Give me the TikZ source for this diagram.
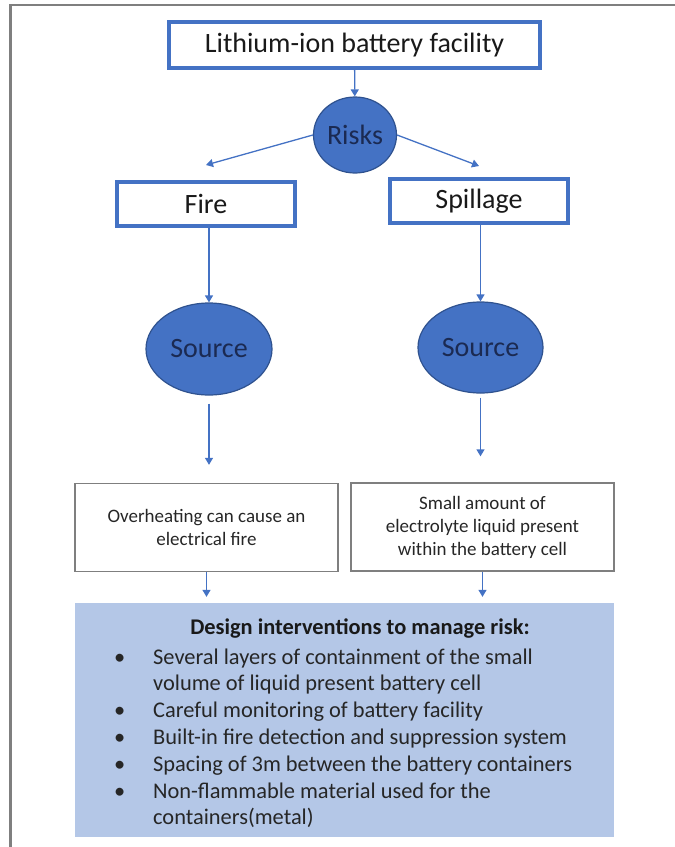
\documentclass[tikz,border=0pt]{standalone}
\usepackage{fontspec}
\setmainfont{Carlito}
\usepackage{xcolor}
\usepackage{tikz}
\usetikzlibrary{positioning, shapes.geometric, arrows.meta}

\definecolor{accent}{HTML}{4472C4}
\definecolor{accentdark}{HTML}{2F528F}
\definecolor{navytext}{HTML}{1B2A52}
\definecolor{panelblue}{HTML}{B4C7E7}
\definecolor{framegray}{HTML}{7F7F7F}

\begin{document}
\begin{tikzpicture}[x=1pt, y=-1pt,
    head/.style={draw=accent, line width=4pt, fill=white, inner sep=0pt, text=black!90, font=\fontsize{28}{34}\selectfont},
    bubble/.style={ellipse, draw=accentdark, line width=1.2pt, fill=accent, inner sep=0pt, text=navytext, font=\fontsize{28}{34}\selectfont},
    fact/.style={draw=framegray, line width=1.3pt, align=center, inner sep=0pt, minimum width=263pt, minimum height=88pt, text=black!85, font=\fontsize{19}{23}\selectfont},
    link/.style={draw=accent, line width=1.3pt, -{Triangle[length=7pt,width=8pt]}}]
        \useasboundingbox (0,0) rectangle (675,847);
        \draw[framegray, line width=2.5pt] (675,5) -- (10.5,5) -- (10.5,847);

        \node[head, minimum width=371pt, minimum height=46pt] (facility) at (354.5,45) {Lithium-ion battery facility};
        \node[bubble, minimum width=83pt, minimum height=76pt] (risks) at (355,135) {Risks};
        \node[head, minimum width=178pt, minimum height=44pt] (fire) at (206,204) {Fire};
        \node[head, minimum width=178pt, minimum height=44pt] (spill) at (479,201) {Spillage};
        \node[bubble, minimum width=126pt, minimum height=92pt] (srcfire) at (209,349) {Source};
        \node[bubble, minimum width=125pt, minimum height=91pt] (srcspill) at (480.5,347.5) {Source};
        \node[fact] (heat) at (206.5,527.5) {Overheating can cause an\\electrical fire};
        \node[fact] (liquid) at (482.5,527) {Small amount of\\electrolyte liquid present\\within the battery cell};
        \node[fill=panelblue, minimum width=539pt, minimum height=234pt, inner sep=0pt] (design) at (344.5,720) {};
        \node[text=black!90, font=\fontsize{22.4}{26.8}\selectfont\bfseries] (title) at (360,629) {Design interventions to manage risk:};
        \node[anchor=base west, inner sep=0pt, text=black!85, font=\fontsize{22.4}{26.8}\selectfont] (measures) at (114,664) {%
          \begin{tabular}[t]{@{}p{39pt}@{}l@{}}
            \textbullet & Several layers of containment of the small\\
                        & volume of liquid present battery cell\\
            \textbullet & Careful monitoring of battery facility\\
            \textbullet & Built-in fire detection and suppression system\\
            \textbullet & Spacing of 3m between the battery containers\\
            \textbullet & Non-flammable material used for the\\
                        & containers(metal)
          \end{tabular}};

        \draw[link] (facility) -- (risks);
        \draw[link] (risks.west) -- ([yshift=15pt]fire.north);
        \draw[link] (risks.east) -- ([yshift=11pt]spill.north);
        \draw[link] (srcfire.north |- fire.south) -- (srcfire);
        \draw[link] (srcspill.north |- spill.south) -- (srcspill);
        \draw[link, shorten <=8pt, shorten >=18pt] (srcfire) -- (srcfire |- heat.north);
        \draw[link, shorten <=4pt, shorten >=26pt] (srcspill) -- (srcspill |- liquid.north);
        \draw[link, shorten >=6pt] (heat) -- (heat |- design.north);
        \draw[link, shorten >=6pt] (liquid) -- (liquid |- design.north);
      \end{tikzpicture}
\end{document}
